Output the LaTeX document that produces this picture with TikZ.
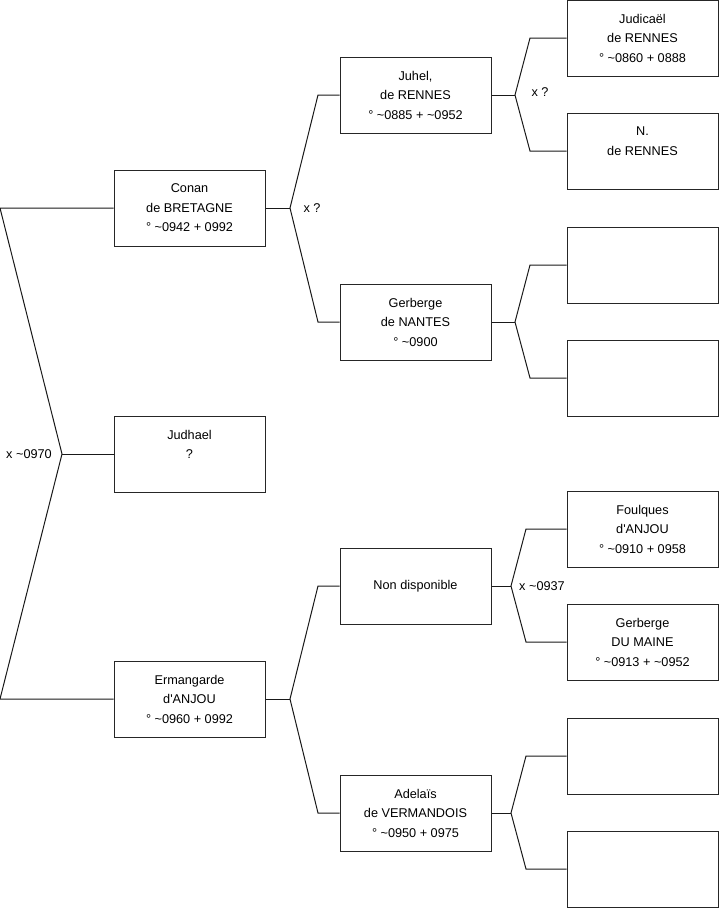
\documentclass[tikz,border=0pt]{standalone}
\usepackage{fontspec}
\setmainfont{Liberation Sans}
\usetikzlibrary{positioning}

\begin{document}
\begin{tikzpicture}[x=1pt,y=-1pt,
                    person/.style={rectangle, draw=black!85, line width=1pt, minimum width=151pt,
                                   minimum height=76pt, inner sep=0pt, align=center,
                                   font=\fontsize{12.7}{19.5}\selectfont},
                    link/.style={draw=black!90, line width=1pt},
                    union/.style={inner sep=0pt, font=\fontsize{12.7}{15}\selectfont}]
  \useasboundingbox (0,0) rectangle (719,908);

  % Nodes
  \node[person] (conan) at (189.5,208) {Conan\\de BRETAGNE\\° \textasciitilde0942 + 0992};
  \node[person] (judhael) at (189.5,454) {Judhael\\?\\\mbox{}};
  \node[person] (ermangarde) at (189.5,699) {Ermangarde\\d\textquotesingle ANJOU\\° \textasciitilde0960 + 0992};

  \node[person] (juhel) at (415.5,95) {Juhel,\\de RENNES\\° \textasciitilde0885 + \textasciitilde0952};
  \node[person] (gerbergeN) at (415.5,322) {Gerberge\\de NANTES\\° \textasciitilde0900};
  \node[person] (nondispo) at (415.5,586) {Non disponible};
  \node[person] (adelais) at (415.5,813) {Adelaïs\\de VERMANDOIS\\° \textasciitilde0950 + 0975};

  \node[person] (judicael) at (642.5,38) {Judicaël\\de RENNES\\° \textasciitilde0860 + 0888};
  \node[person] (nrennes) at (642.5,151) {N.\\de RENNES\\\mbox{}};
  \node[person] (gn1) at (642.5,265) {};
  \node[person] (gn2) at (642.5,378) {};
  \node[person] (foulques) at (642.5,529) {Foulques\\d\textquotesingle ANJOU\\° \textasciitilde0910 + 0958};
  \node[person] (gerbergeM) at (642.5,642) {Gerberge\\DU MAINE\\° \textasciitilde0913 + \textasciitilde0952};
  \node[person] (ad1) at (642.5,756) {};
  \node[person] (ad2) at (642.5,869) {};

  % Fork points
  \coordinate (r0) at (0,208);   \coordinate (r1) at (62,454);  \coordinate (r2) at (0,699);
  \coordinate (c0) at (290,208); \coordinate (c1) at (318,95);  \coordinate (c2) at (318,322);
  \coordinate (e0) at (290,699); \coordinate (e1) at (318,586); \coordinate (e2) at (318,813);
  \coordinate (j0) at (515,95);  \coordinate (j1) at (530,38);  \coordinate (j2) at (530,151);
  \coordinate (g0) at (515,322); \coordinate (g1) at (530,265); \coordinate (g2) at (530,378);
  \coordinate (n0) at (511,586); \coordinate (n1) at (526,529); \coordinate (n2) at (526,642);
  \coordinate (a0) at (511,813); \coordinate (a1) at (526,756); \coordinate (a2) at (526,869);

  % Edges
  \draw[link] (conan.west) -- (r0) -- (r1) -- (r2) -- (ermangarde.west);
  \draw[link] (r1) -- (judhael.west);
  \draw[link] (juhel.west) -- (c1) -- (c0) -- (c2) -- (gerbergeN.west);
  \draw[link] (conan.east) -- (c0);
  \draw[link] (nondispo.west) -- (e1) -- (e0) -- (e2) -- (adelais.west);
  \draw[link] (ermangarde.east) -- (e0);
  \draw[link] (judicael.west) -- (j1) -- (j0) -- (j2) -- (nrennes.west);
  \draw[link] (juhel.east) -- (j0);
  \draw[link] (gn1.west) -- (g1) -- (g0) -- (g2) -- (gn2.west);
  \draw[link] (gerbergeN.east) -- (g0);
  \draw[link] (foulques.west) -- (n1) -- (n0) -- (n2) -- (gerbergeM.west);
  \draw[link] (nondispo.east) -- (n0);
  \draw[link] (ad1.west) -- (a1) -- (a0) -- (a2) -- (ad2.west);
  \draw[link] (adelais.east) -- (a0);

  % Labels
  \node[union] (u0) at (29,454) {x \textasciitilde0970};
  \node[union] (u1) at (312,208) {x ?};
  \node[union] (u2) at (540,92) {x ?};
  \node[union] (u3) at (542,586) {x \textasciitilde0937};
\end{tikzpicture}
\end{document}
